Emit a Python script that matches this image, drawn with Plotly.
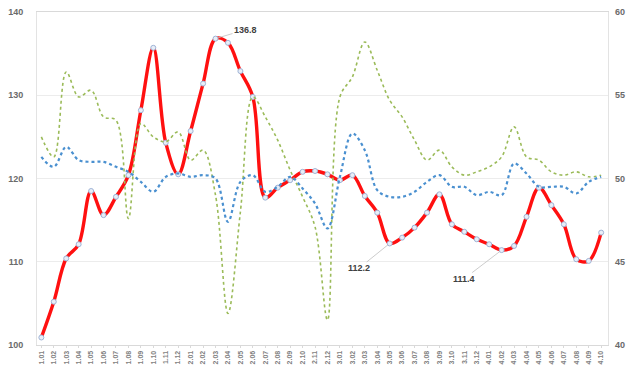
import plotly.graph_objects as go

months = [f"{y}.{m:02d}" for y in (1, 2, 3, 4) for m in range(1, 13)][:46]

red_values = [100.9, 105.2, 110.4, 112.1, 118.5, 115.6, 117.8, 120.4, 128.2, 135.7,
              124.3, 120.5, 125.7, 131.4, 136.8, 136.3, 132.9, 129.8, 117.7, 118.9,
              119.8, 120.8, 120.9, 120.5, 119.8, 120.4, 117.9, 115.9, 112.2, 112.9,
              114.1, 115.9, 118.1, 114.5, 113.6, 112.7, 112.1, 111.4, 111.9, 115.4,
              118.9, 116.8, 114.5, 110.3, 110.1, 113.5]

blue_values = [51.3, 50.7, 51.9, 51.1, 51.0, 51.0, 50.7, 50.4, 49.8, 49.2,
               50.1, 50.3, 50.1, 50.2, 50.0, 47.4, 49.8, 50.2, 49.2, 49.5,
               50.1, 49.4, 48.5, 47.0, 50.1, 52.7, 51.7, 49.3, 48.9, 48.9,
               49.2, 49.8, 50.2, 49.5, 49.5, 49.0, 49.2, 49.0, 50.9, 50.3,
               49.5, 49.5, 49.5, 49.1, 49.8, 50.1]

green_values = [52.5, 51.3, 56.4, 54.9, 55.3, 53.7, 53.5, 47.6, 53.3, 52.5,
                52.2, 52.8, 51.1, 51.7, 49.0, 41.9, 48.0, 54.9, 53.7, 52.3,
                50.5, 48.9, 47.1, 41.5, 54.9, 56.1, 58.2, 56.5, 54.7, 53.7,
                52.3, 51.1, 51.7, 50.7, 50.2, 50.4, 50.7, 51.3, 53.1, 51.3,
                51.1, 50.4, 50.2, 50.4, 50.1, 50.2]

left_ticks = [100, 110, 120, 130, 140]
right_ticks = [40, 45, 50, 55, 60]

labels = [(14, "136.8", 30, -9), (28, "112.2", -31, 25), (37, "111.4", -38, 29)]

x = list(range(len(months)))

# the page body adds an 8px offset, so the figure is 8px smaller on each axis
W, H = 629, 357
PL, PR, PT, PB = 29, 600, 4, 337  # plot area in figure pixels

fig = go.Figure()
fig.add_trace(go.Scatter(
    x=x, y=green_values, yaxis="y2", mode="lines",
    line=dict(color="#9BBB59", width=1.6, dash="dot", shape="spline", smoothing=1.0),
    showlegend=False, hoverinfo="skip"))
fig.add_trace(go.Scatter(
    x=x, y=blue_values, yaxis="y2", mode="lines",
    line=dict(color="#4A90D0", width=2.2, dash="dot", shape="spline", smoothing=1.0),
    showlegend=False, hoverinfo="skip"))
fig.add_trace(go.Scatter(
    x=x, y=red_values, mode="lines+markers",
    line=dict(color="#FF1010", width=3.4, shape="spline", smoothing=1.0),
    marker=dict(size=5, color="#E8EEF8", line=dict(color="#9FB4D6", width=1)),
    showlegend=False, hoverinfo="skip"))
# empty trace that only carries the axis used as the outer chart frame's right edge
fig.add_trace(go.Scatter(x=[], y=[], yaxis="y3", showlegend=False, hoverinfo="skip"))

for idx, txt, ax, ay in labels:
    fig.add_annotation(x=idx, y=red_values[idx], text=txt, showarrow=True,
                       arrowhead=0, arrowwidth=0.8, arrowcolor="#BFBFBF",
                       ax=ax, ay=ay, standoff=2,
                       font=dict(family="Liberation Sans", size=9, color="#404040",
                                 weight="bold"))

fig.update_layout(
    width=W, height=H,
    margin=dict(l=0, r=0, t=0, b=0, pad=0),
    paper_bgcolor="white", plot_bgcolor="rgba(0,0,0,0)",
    font=dict(family="Liberation Sans", size=9, color="#7F7F7F"),
    xaxis=dict(
        domain=[PL / W, PR / W],
        range=[-0.35, 45.55], tickmode="array", tickvals=x, ticktext=months,
        tickangle=-90, showgrid=False, showline=True, linecolor="#D9D9D9",
        mirror=True, ticks="outside", ticklen=2, tickcolor="#D9D9D9",
        tickfont=dict(size=7, color="#7F7F7F", weight="bold"),
        ticklabelstandoff=0, automargin=False, zeroline=False,
        ticklabeloverflow="allow"),
    yaxis=dict(
        domain=[1 - PB / H, 1 - PT / H],
        range=[100, 140], tickvals=left_ticks, showgrid=True, gridcolor="#ECECEC",
        showline=True, linecolor="#E3E3E3", mirror=True, zeroline=False,
        tickfont=dict(size=9, color="#6B6B6B", weight="bold"), ticklabelstandoff=11,
        automargin=False, ticklabeloverflow="allow"),
    yaxis2=dict(
        range=[40, 60], tickvals=right_ticks, overlaying="y", side="right",
        showgrid=False, zeroline=False, showline=False,
        tickfont=dict(size=9, color="#6B6B6B", weight="bold"), ticklabelstandoff=6,
        automargin=False, ticklabeloverflow="allow"),
    yaxis3=dict(
        domain=[0, 1], anchor="free", position=626.5 / W, side="right",
        showline=True, linecolor="#A6A6A6", linewidth=2.5,
        showgrid=False, zeroline=False, showticklabels=False, ticks="",
        range=[0, 1], fixedrange=True),
)

fig.write_html("out.html")
